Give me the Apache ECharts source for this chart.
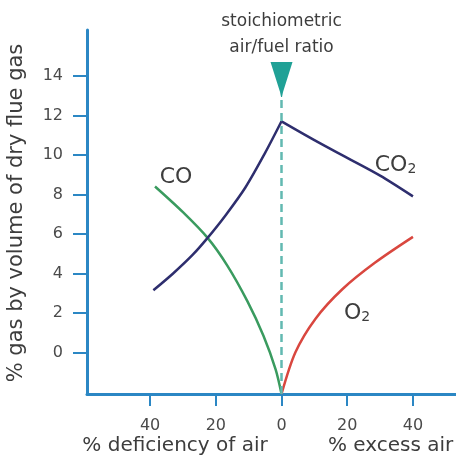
<!DOCTYPE html>
<html>
<head>
<meta charset="utf-8">
<script src="https://cdn.jsdelivr.net/npm/echarts@6/dist/echarts.min.js"></script>
<style>
html,body{margin:0;padding:0;background:#fff;}
#chart{width:456px;height:457px;}
</style>
</head>
<body>
<div id="chart"></div>
<script>
// ---- data ----
var xTicks = [-40, -20, 0, 20, 40];
var yTicks = [0, 2, 4, 6, 8, 10, 12, 14];

var coX = [-38.5, -30, -22.5, -16.5, -10.4, -5.5, -1.8, 0];
var coY = [8.4, 7.1, 5.8, 4.4, 2.6, 0.85, -0.85, -2.1];

var co2LeftX = [-39, -33, -27, -22.5, -17, -11, -5, 0];
var co2LeftY = [3.15, 4.0, 4.95, 5.8, 6.95, 8.35, 10.1, 11.7];

var co2RightX = [0, 10, 20, 30, 40];
var co2RightY = [11.7, 10.75, 9.85, 8.95, 7.9];

var o2X = [0, 4.2, 10.3, 18.5, 28.5, 40];
var o2Y = [-2.1, 0, 1.7, 3.2, 4.55, 5.85];

var stoichX = 0;

function pairs(xs, ys) { return xs.map(function (x, i) { return [x, ys[i]]; }); }

var FONT = 'DejaVu Sans';
var AXIS_BLUE = '#2b87c4';
var TXT = '#3d3d3d';

var chart = echarts.init(document.getElementById('chart'), null, {renderer: 'canvas'});

var labelStyle = {
  fontFamily: FONT, fontSize: 22, color: TXT,
  rich: {
    a: {fontFamily: FONT, fontSize: 22, color: TXT, verticalAlign: 'bottom', lineHeight: 24},
    b: {fontFamily: FONT, fontSize: 14, color: TXT, verticalAlign: 'bottom', lineHeight: 12}
  }
};

function textPoint(coord, text) {
  return {
    coord: coord, symbol: 'circle', symbolSize: 0,
    label: Object.assign({show: true, position: 'inside', formatter: text}, labelStyle)
  };
}

var option = {
  backgroundColor: '#ffffff',
  animation: false,
  grid: {left: 87, right: 0, top: 30, bottom: 63, outerBoundsMode: 'none', containLabel: false},
  xAxis: {
    type: 'value', min: -59.2, max: 53.1,
    axisLine: {show: true, onZero: false, lineStyle: {color: AXIS_BLUE, width: 3}},
    axisTick: {show: true, customValues: xTicks, length: 12, lineStyle: {color: AXIS_BLUE, width: 2}},
    axisLabel: {customValues: xTicks, margin: 24, fontFamily: FONT, fontSize: 16, color: '#4a4a4a',
      formatter: function (v) { return String(Math.abs(v)); }},
    splitLine: {show: false}
  },
  yAxis: {
    type: 'value', min: -2.1, max: 16.32,
    axisLine: {show: true, onZero: false, lineStyle: {color: AXIS_BLUE, width: 3}},
    axisTick: {show: true, customValues: yTicks, length: 14, lineStyle: {color: AXIS_BLUE, width: 2}},
    axisLabel: {customValues: yTicks, margin: 24, fontFamily: FONT, fontSize: 16, color: '#4a4a4a'},
    splitLine: {show: false}
  },
  graphic: [
    {type: 'text', x: 17, y: 213, rotation: Math.PI / 2,
      style: {text: '% gas by volume of dry flue gas', fontFamily: FONT, fontSize: 21, fill: TXT,
        align: 'center', verticalAlign: 'middle'}},
    {type: 'text', x: 175, y: 446,
      style: {text: '% deficiency of air', fontFamily: FONT, fontSize: 20, fill: TXT,
        align: 'center', verticalAlign: 'middle'}},
    {type: 'text', x: 328, y: 446,
      style: {text: '% excess air', fontFamily: FONT, fontSize: 20, fill: TXT,
        align: 'left', verticalAlign: 'middle'}}
  ],
  series: [
    {
      name: 'CO', type: 'line', data: pairs(coX, coY), smooth: 0.3, showSymbol: false,
      lineStyle: {color: '#3a9b5f', width: 2.5}, z: 3,
      markPoint: {silent: true, data: [textPoint([-32.1, 8.9], '{a|CO}')]}
    },
    {
      name: 'CO2 rich', type: 'line', data: pairs(co2LeftX, co2LeftY), smooth: 0.3, showSymbol: false,
      lineStyle: {color: '#2e2e6e', width: 2.5}, z: 4
    },
    {
      name: 'CO2 lean', type: 'line', data: pairs(co2RightX, co2RightY), smooth: 0.3, showSymbol: false,
      lineStyle: {color: '#2e2e6e', width: 2.5}, z: 4,
      markPoint: {silent: true, data: [textPoint([34.7, 9.5], '{a|CO}{b|2}')]}
    },
    {
      name: 'O2', type: 'line', data: pairs(o2X, o2Y), smooth: 0.3, showSymbol: false,
      lineStyle: {color: '#d9473f', width: 2.5}, z: 4,
      markPoint: {silent: true, data: [textPoint([23.0, 2.05], '{a|O}{b|2}')]}
    },
    {
      name: 'stoichiometric', type: 'line', data: [], z: 2,
      markLine: {
        silent: true, symbol: ['none', 'none'], label: {show: false},
        lineStyle: {color: '#62b9b1', width: 2.5, type: [8, 5]},
        data: [[{coord: [stoichX, -2.1]}, {coord: [stoichX, 12.8]}]]
      },
      markPoint: {
        silent: true,
        data: [{
          coord: [stoichX, 13.82],
          symbol: 'path://M0,0 L22,0 L12.5,30 L11.5,35 L10.5,35 L9.5,30 Z',
          symbolSize: [22, 35],
          itemStyle: {color: '#20a196'},
          label: {show: true, position: 'top', distance: 1,
            formatter: 'stoichiometric\nair/fuel ratio',
            fontFamily: FONT, fontSize: 17, lineHeight: 26, color: TXT, align: 'center'}
        }]
      }
    }
  ]
};

chart.setOption(option);
</script>
</body>
</html>
